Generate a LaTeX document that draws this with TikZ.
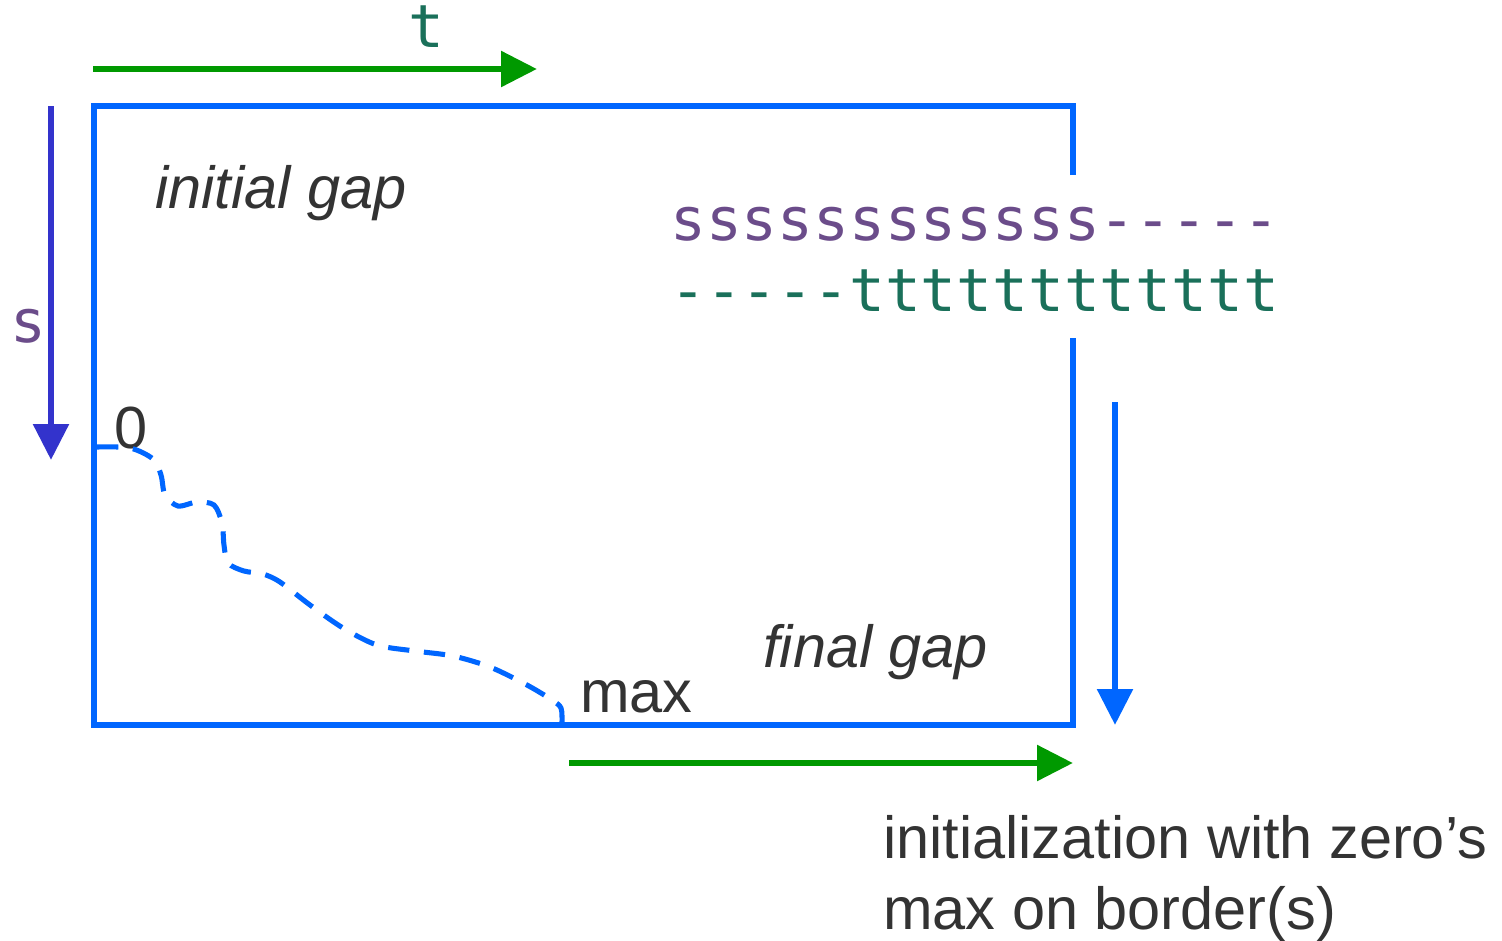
\documentclass[tikz,border=0pt]{standalone}
\usepackage{fontspec}
\setmainfont{Liberation Sans}
\newfontfamily\codefont{DejaVu Sans Mono}[Ligatures=TeXOff]
\usetikzlibrary{arrows.meta}

\definecolor{boxblue}{RGB}{0,102,255}
\definecolor{axisgreen}{RGB}{0,153,0}
\definecolor{sblue}{RGB}{51,51,204}
\definecolor{spurple}{RGB}{107,76,138}
\definecolor{tteal}{RGB}{26,112,90}
\definecolor{ink}{RGB}{51,51,51}

\begin{document}
\begin{tikzpicture}[x=0.75pt,y=-0.75pt,
  frame/.style={draw=boxblue, line width=5pt},
  axis/.style={line width=5pt, -{Triangle[length=27pt,width=26pt]}},
  lbl/.style={inner sep=0pt, anchor=base west, text=ink,
              font=\fontsize{44.6}{52}\selectfont},
  code/.style={inner sep=0pt, anchor=base west,
               font=\codefont\fontsize{44.6}{52}\selectfont},
  trace/.style={draw=boxblue, line width=3.8pt,
                dash pattern=on 16pt off 11pt}]
\useasboundingbox (0,0) rectangle (1502,940);

% corners of the score matrix, right edge interrupted by the alignment
\coordinate (tl) at (94,106);
\coordinate (tr) at (1073,106);
\coordinate (bl) at (94,725);
\coordinate (br) at (1073,725);
\coordinate (rt) at (1073,175);
\coordinate (rb) at (1073,338);
\draw[frame] (rt) -- (tr) -- (tl) -- (bl) -- (br) -- (rb);

% axis arrows
\coordinate (ta) at (93,69);   \coordinate (tb) at (537,69);
\coordinate (sa) at (51,106);  \coordinate (sb) at (51,460);
\coordinate (ra) at (1115,402);\coordinate (rbb) at (1115,725);
\coordinate (ba) at (569,763); \coordinate (bb) at (1073,763);
\draw[axis, axisgreen] (ta) -- (tb);
\draw[axis, sblue] (sa) -- (sb);
\draw[axis, boxblue] (ra) -- (rbb);
\draw[axis, axisgreen] (ba) -- (bb);

% axis letters
\node[code, text=tteal] (tlbl) at (408,47) {t};
\node[code, text=spurple] (slbl) at (10,342) {s};

% labels inside the matrix
\node[lbl, font=\itshape\fontsize{44.6}{52}\selectfont] (initgap) at (155,208) {initial gap};
\node[lbl, font=\itshape\fontsize{44.6}{52}\selectfont] (finalgap) at (763,667) {final gap};
\node[lbl] (zerolbl) at (114,448) {0};
\node[lbl] (maxlbl) at (580,712) {max};

% the two sequences
\node[code, text=spurple] (seqs) at (670,240) {ssssssssssss-----};
\node[code, text=tteal] (seqt) at (670,311) {-----tttttttttttt};

% note below
\node[lbl] (note1) at (883,858) {initialization with zero’s};
\node[lbl] (note2) at (883,929) {max on border(s)};

% best local path from 0 to max
\draw[trace] plot[smooth, tension=0.5] coordinates {
  (97,447) (130,448) (153,459) (161,475) (165,495) (178,506) (197,502)
  (214,505) (222,523) (224,545) (228,563) (244,571) (263,574) (280,582)
  (310,605) (343,628) (377,645) (415,651) (453,656) (490,667) (527,685)
  (552,700) (561,708) (562,722)};
\end{tikzpicture}
\end{document}
